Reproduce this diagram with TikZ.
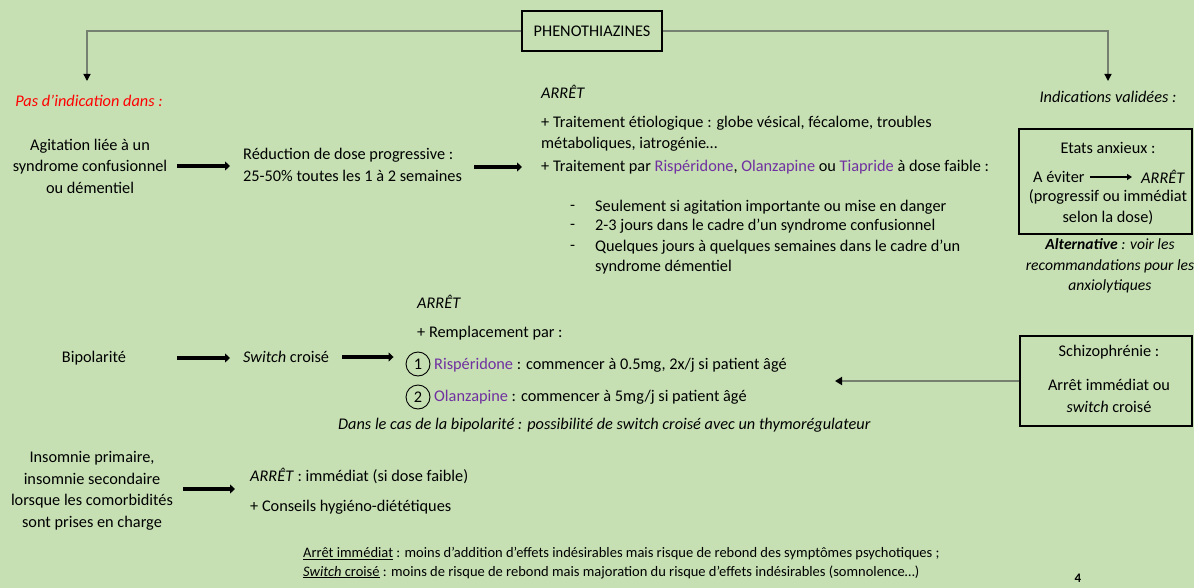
\documentclass[tikz,border=0pt]{standalone}
\usepackage{fontspec}
\setmainfont{Carlito}
\usetikzlibrary{arrows.meta,positioning}
\definecolor{fond}{RGB}{198,224,180}
\definecolor{molecule}{RGB}{112,48,160}
\definecolor{trait}{RGB}{118,128,112}
\newcommand{\mol}[1]{\textcolor{molecule}{#1}}
\begin{document}
\begin{tikzpicture}[
    x=1pt, y=-1pt,
    every node/.style={font=\fontsize{16.3}{21.5}\selectfont, inner sep=0pt, align=center},
    gauche/.style={anchor=west, align=left},
    penche/.style={font=\fontsize{16.3}{21.5}\selectfont\itshape},
    cadre/.style={draw, line width=1.3pt},
    fleche/.style={line width=3.4pt, -{Triangle[length=5pt,width=9pt]}},
    lien/.style={draw=trait, line width=1.3pt, -{Triangle[length=7pt,width=7pt,color=black]}},
    num/.style={draw, circle, minimum size=24pt, line width=0.9pt},
    note/.style={font=\fontsize{14.5}{18}\selectfont, anchor=west}
]
\useasboundingbox (0,0) rectangle (1194,588);
\fill[fond] (0,0) rectangle (1194,588);

% titre
\node[cadre, minimum width=140pt, minimum height=40pt] (pheno) at (592,31) {PHENOTHIAZINES};
\coordinate (cpas) at (87,81);
\coordinate (cvalid) at (1108,81);
\draw[lien] (pheno.west) -| (cpas);
\draw[lien] (pheno.east) -| (cvalid);

\node[penche, text=red] (pasind) at (89,101) {Pas d’indication dans :};
\node[penche] (valid) at (1108,97) {Indications validées :};

% agitation
\node (agit) at (90,166) {Agitation liée à un\\ syndrome confusionnel\\ ou démentiel};
\node[gauche] (reduc) at (243,165) {Réduction de dose progressive :\\ 25-50\% toutes les 1 à 2 semaines};
\node[gauche, penche] (arret1) at (541,92) {ARRÊT};
\node[gauche] (etio) at (541,133.5) {+ Traitement étiologique : globe vésical, fécalome, troubles\\ métaboliques, iatrogénie…};
\node[gauche] (trait2) at (541,167) {+ Traitement par \mol{Rispéridone}, \mol{Olanzapine} ou \mol{Tiapride} à dose faible :};
\node[gauche] (tiret1) at (570,208) {-};
\node[gauche] (tiret2) at (570,227) {-};
\node[gauche] (tiret3) at (570,248) {-};
\node[gauche] (cond1) at (595,207) {Seulement si agitation importante ou mise en danger};
\node[gauche] (cond2) at (595,226) {2-3 jours dans le cadre d’un syndrome confusionnel};
\node[gauche, font=\fontsize{16.3}{20}\selectfont] (cond3) at (595,257) {Quelques jours à quelques semaines dans le cadre d’un\\ syndrome démentiel};
\draw[fleche, shorten <=10pt, shorten >=13pt] (agit.east) -- (agit.east -| reduc.west);
\draw[fleche, shorten <=12pt, shorten >=19pt] (reduc.east |- trait2.west) -- (trait2.west);

% etats anxieux
\node[cadre, minimum width=173pt, minimum height=105pt] (anxieux) at (1105.5,181.5) {};
\node (anxtitre) at (1108,148) {Etats anxieux :};
\node[gauche] (eviter) at (1033,177) {A éviter};
\node[gauche, penche] (arretA) at (1141,177) {ARRÊT};
\node (progr) at (1108,207) {(progressif ou immédiat\\ selon la dose)};
\draw[line width=1.8pt, -{Triangle[length=5pt,width=6pt]}, shorten <=5pt, shorten >=9pt] (eviter.east) -- (arretA.west);
\node[font=\fontsize{15.6}{20.5}\selectfont\itshape] (altern) at (1110,266) {\textbf{Alternative} : voir les\\ recommandations pour les\\ anxiolytiques};

% bipolarite
\node (bipo) at (94,358) {Bipolarité};
\node[gauche] (switch) at (243,357) {\textit{Switch} croisé};
\node[gauche, penche] (arret2) at (417,302) {ARRÊT};
\node[gauche] (rempl) at (417,333) {+ Remplacement par :};
\node[num] (num1) at (418,364) {1};
\node[num] (num2) at (418,397) {2};
\node[gauche] (risp) at (434,365) {\mol{Rispéridone} : commencer à 0.5mg, 2x/j si patient âgé};
\node[gauche] (olan) at (434,397) {\mol{Olanzapine} : commencer à 5mg/j si patient âgé};
\node[gauche, penche] (thymo) at (338,425) {Dans le cas de la bipolarité : possibilité de switch croisé avec un thymorégulateur};
\draw[fleche, shorten <=51pt, shorten >=13pt] (bipo.east) -- (bipo.east -| switch.west);
\draw[fleche, shorten <=13pt, shorten >=12pt] (switch.east) -- (switch.east -| num1.west);

% schizophrenie
\node[cadre, minimum width=172pt, minimum height=90pt] (schizo) at (1106,381) {};
\node (schtitre) at (1109,352) {Schizophrénie :};
\node (schtexte) at (1109,396) {Arrêt immédiat ou\\ \textit{switch} croisé};
\coordinate (schbout) at (835,381);
\draw[draw=trait, line width=2.6pt, -{Triangle[length=7pt,width=8pt,color=black]}] (schizo.west) -- (schbout);

% insomnie
\node (insom) at (92,491) {Insomnie primaire,\\ insomnie secondaire\\ lorsque les comorbidités\\ sont prises en charge};
\node[gauche] (arret3) at (250,476) {\textit{ARRÊT} : immédiat (si dose faible)};
\node[gauche] (conseil) at (250,507) {+ Conseils hygiéno-diététiques};
\draw[fleche, shorten <=10pt, shorten >=15pt] (insom.east |- 0,489) -- (arret3.west |- 0,489);

% notes
\node[note] (note1) at (303,554) {\underline{Arrêt immédiat} : moins d’addition d’effets indésirables mais risque de rebond des symptômes psychotiques ;};
\node[note] (note2) at (303,572) {\underline{\textit{Switch} croisé} : moins de risque de rebond mais majoration du risque d’effets indésirables (somnolence…)};
\node[font=\fontsize{13}{14}\selectfont\bfseries] (page) at (1078,578) {4};
\end{tikzpicture}
\end{document}
